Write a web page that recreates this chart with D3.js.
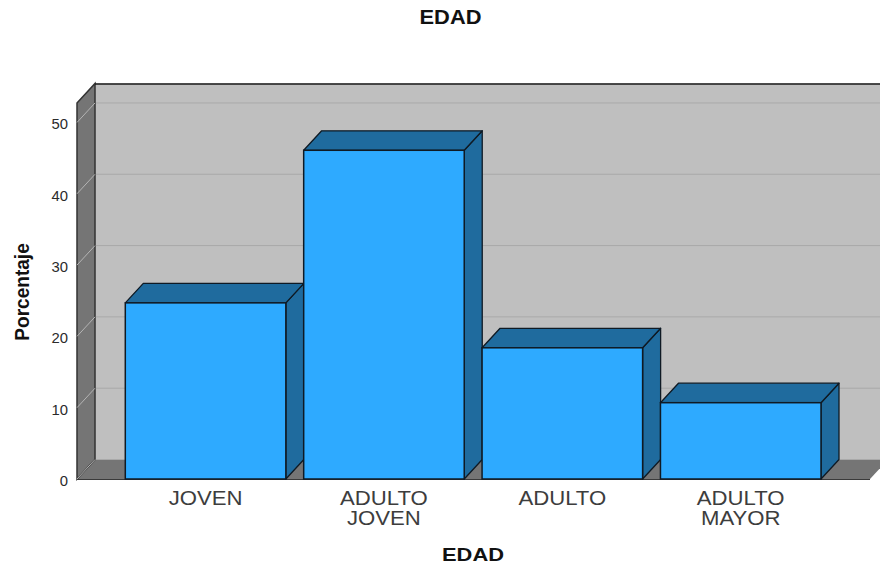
<!DOCTYPE html>
<html>
<head>
<meta charset="utf-8">
<script src="https://cdn.jsdelivr.net/npm/d3@7/dist/d3.min.js"></script>
<style>
  html, body { margin: 0; padding: 0; background: #fff; }
  svg { display: block; }
  text { font-family: "Liberation Sans", Arial, sans-serif; }
</style>
</head>
<body>
<svg id="chart" width="880" height="565"></svg>
<script>
// Age group distribution (percent)
const categories = ["JOVEN", "ADULTO JOVEN", "ADULTO", "ADULTO MAYOR"];
const categoryLines = [["JOVEN"], ["ADULTO", "JOVEN"], ["ADULTO"], ["ADULTO", "MAYOR"]];
const percentages = [24.7, 46.1, 18.4, 10.7];
const yTicks = [0, 10, 20, 30, 40, 50];
const yMax = 52.73;

const width = 880, height = 565;
const depthX = 18, depthY = 19.5;  // oblique offset of the 3D box
const floorY = 479, wallTopY = 103;
const wallX = 77, floorRightX = 870;

const svg = d3.select("#chart");
const y = d3.scaleLinear().domain([0, yMax]).range([floorY, wallTopY]);
const x = d3.scaleBand().domain(categories).range([125.3, 821]).paddingInner(0.1).paddingOuter(0);

const poly = pts => pts.map(p => p.join(",")).join(" ");
const colors = {
  back: "#bfbfbf", side: "#757575", grid: "#a9a9a9", diag: "#b4b4b4",
  front: "#2eaaff", dark: "#1f6b9e", line: "#0f1a24", wallLine: "#333333"
};

// Stretch a label horizontally to the wider set width used on this chart
function widen(sel, factor) {
  sel.each(function () {
    const n = this.getComputedTextLength();
    d3.select(this).attr("textLength", n * factor).attr("lengthAdjust", "spacingAndGlyphs");
  });
}

// Back wall, clipped by the right side of the canvas
svg.append("polygon")
  .attr("points", poly([[wallX + depthX, wallTopY - depthY], [width, wallTopY - depthY], [width, floorY - depthY], [wallX + depthX, floorY - depthY]]))
  .attr("fill", colors.back);

// Floor
svg.append("polygon")
  .attr("points", poly([[wallX, floorY], [wallX + depthX, floorY - depthY], [floorRightX + depthX, floorY - depthY], [floorRightX, floorY]]))
  .attr("fill", colors.side);

// Left wall
svg.append("polygon")
  .attr("points", poly([[wallX, wallTopY], [wallX + depthX, wallTopY - depthY], [wallX + depthX, floorY - depthY], [wallX, floorY]]))
  .attr("fill", colors.side).attr("stroke", colors.wallLine).attr("stroke-width", 1.5);

// Top edge of the back wall
svg.append("line")
  .attr("x1", wallX + depthX).attr("x2", width)
  .attr("y1", wallTopY - depthY + 0.5).attr("y2", wallTopY - depthY + 0.5)
  .attr("stroke", "#1a1a1a").attr("stroke-width", 1.3);

// Gridlines along the back wall
svg.append("g").selectAll("line").data(yTicks.filter(d => d > 0)).join("line")
  .attr("x1", wallX + depthX + 1).attr("x2", width)
  .attr("y1", d => y(d) - depthY).attr("y2", d => y(d) - depthY)
  .attr("stroke", colors.grid).attr("stroke-width", 1);

// Diagonal tick lines across the left wall
svg.append("g").selectAll("line").data(yTicks).join("line")
  .attr("x1", wallX).attr("x2", wallX + depthX)
  .attr("y1", d => y(d)).attr("y2", d => y(d) - depthY)
  .attr("stroke", colors.diag).attr("stroke-width", 1);

// Front base line of the floor
svg.append("line")
  .attr("x1", wallX).attr("x2", floorRightX)
  .attr("y1", floorY + 0.5).attr("y2", floorY + 0.5)
  .attr("stroke", "#3a3a3a").attr("stroke-width", 1);

// Bars: side, top, then front face
const bars = svg.append("g").selectAll("g").data(categories).join("g");
const val = i => percentages[i];

bars.append("polygon").attr("class", "side")
  .attr("points", (d, i) => {
    const r = x(d) + x.bandwidth(), t = y(val(i));
    return poly([[r, t], [r + depthX, t - depthY], [r + depthX, floorY - depthY], [r, floorY]]);
  })
  .attr("fill", colors.dark).attr("stroke", colors.line).attr("stroke-width", 1.3).attr("stroke-linejoin", "round");

bars.append("polygon").attr("class", "top")
  .attr("points", (d, i) => {
    const l = x(d), r = l + x.bandwidth(), t = y(val(i));
    return poly([[l, t], [l + depthX, t - depthY], [r + depthX, t - depthY], [r, t]]);
  })
  .attr("fill", colors.dark).attr("stroke", colors.line).attr("stroke-width", 1.3).attr("stroke-linejoin", "round");

bars.append("rect").attr("class", "front")
  .attr("x", d => x(d))
  .attr("y", (d, i) => y(val(i)))
  .attr("width", x.bandwidth())
  .attr("height", (d, i) => floorY - y(val(i)))
  .attr("fill", colors.front).attr("stroke", colors.line).attr("stroke-width", 1.5);

// Value axis labels
svg.append("g").selectAll("text").data(yTicks).join("text")
  .attr("x", 68).attr("y", d => y(d) + 7)
  .attr("text-anchor", "end").attr("font-size", 14).attr("fill", "#2b2b2b")
  .text(d => d)
  .call(widen, 1.06);

// Category labels, one text per line
const catRows = categories.flatMap((c, i) => categoryLines[i].map((t, j) => ({ c, t, j })));
svg.append("g").selectAll("text").data(catRows).join("text")
  .attr("x", d => x(d.c) + x.bandwidth() / 2)
  .attr("y", d => 505 + d.j * 19.5)
  .attr("text-anchor", "middle").attr("font-size", 20.5).attr("fill", "#3d3d3d")
  .text(d => d.t)
  .call(widen, 1.08);

// Titles
svg.append("text").attr("x", 450.5).attr("y", 24).attr("text-anchor", "middle")
  .attr("font-size", 19.5).attr("font-weight", "bold").attr("fill", "#111").text("EDAD")
  .call(widen, 1.12);
svg.append("text").attr("x", 473).attr("y", 561).attr("text-anchor", "middle")
  .attr("font-size", 19).attr("font-weight", "bold").attr("fill", "#111").text("EDAD")
  .call(widen, 1.15);
svg.append("text").attr("transform", "translate(28.5,292) rotate(-90)").attr("text-anchor", "middle")
  .attr("font-size", 20.5).attr("font-weight", "bold").attr("fill", "#111").text("Porcentaje")
  .call(widen, 0.93);
</script>
</body>
</html>
